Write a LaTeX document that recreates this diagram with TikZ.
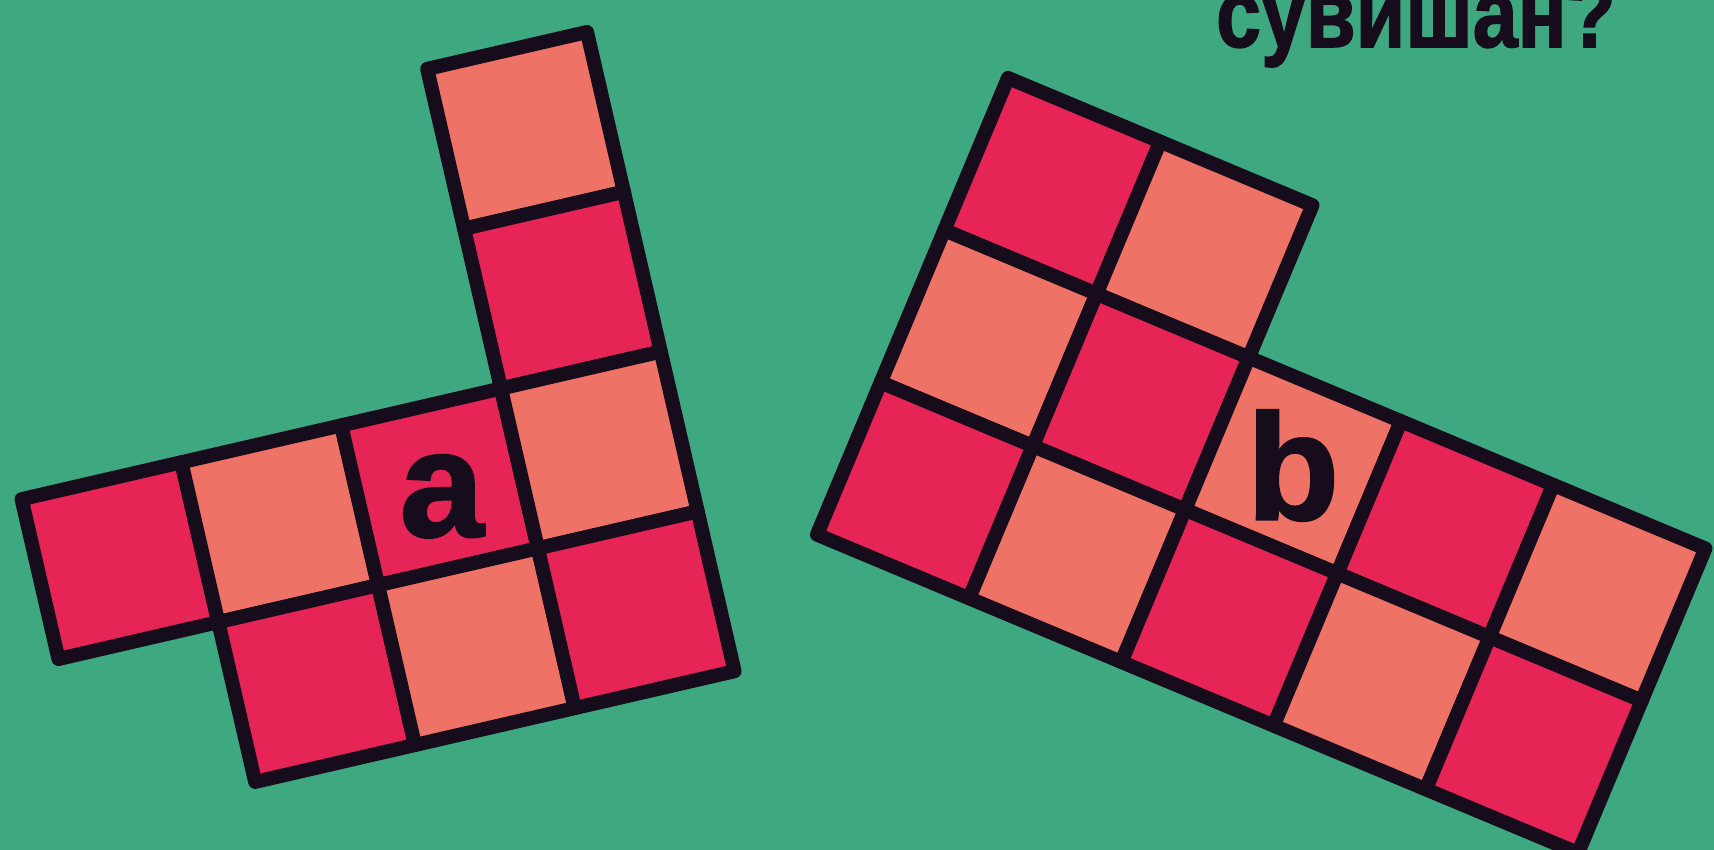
\documentclass[tikz,border=0pt]{standalone}
\usepackage{fontspec}
\setmainfont{Liberation Sans}
\newfontfamily\heavyfont[FakeBold=1.6]{Liberation Sans Bold}
\usepackage{graphicx}
\usepackage{tikz}

\definecolor{boardgreen}{RGB}{62,168,128}
\definecolor{darkpink}{RGB}{230,36,86}
\definecolor{lightpink}{RGB}{239,114,102}
\definecolor{inkline}{RGB}{22,12,28}

\begin{document}
\begin{tikzpicture}[cell/.style={draw=inkline, line width=4pt, line join=round},
    letter/.style={font=\fontsize{43}{47}\heavyfont, text=inkline, inner sep=0pt}]
    \useasboundingbox (0,0) rectangle (17.14,8.5);
    \clip (0,0) rectangle (17.14,8.5);
    \fill[boardgreen] (0,0) rectangle (17.14,8.5);

    % Question text, cut at the top edge
    \node[anchor=base, inner sep=0pt, text=inkline, font=\fontsize{23}{27}\heavyfont] (question) at (14.16, 8.03) {\scalebox{1}[1.2]{сувишан?}};

    % Figure a
    \begin{scope}[shift={(0.216,3.508)}, rotate=13, x=1.64cm, y=1.64cm]
        \foreach \c/\r/\col in {3/0/lightpink, 3/1/darkpink, 0/2/darkpink, 1/2/lightpink, 2/2/darkpink,
                                3/2/lightpink, 1/3/darkpink, 2/3/lightpink, 3/3/darkpink}
            \filldraw[cell, fill=\col] (\c,2-\r) rectangle ++(1,-1);
        \coordinate (cellA) at (2.5,-0.56);
    \end{scope}
    \node[letter] (labelA) at (cellA) {a};

    % Figure b
    \begin{scope}[shift={(10.08,7.72)}, rotate=-22.7, x=1.65cm, y=1.65cm]
        \foreach \c/\r/\col in {0/0/darkpink, 1/0/lightpink,
                                0/1/lightpink, 1/1/darkpink, 2/1/lightpink, 3/1/darkpink, 4/1/lightpink,
                                0/2/darkpink, 1/2/lightpink, 2/2/darkpink, 3/2/lightpink, 4/2/darkpink}
            \filldraw[cell, fill=\col] (\c,-\r) rectangle ++(1,-1);
        \coordinate (cellB) at (2.5,-1.5);
    \end{scope}
    \node[letter] (labelB) at (cellB) {b};
\end{tikzpicture}
\end{document}
